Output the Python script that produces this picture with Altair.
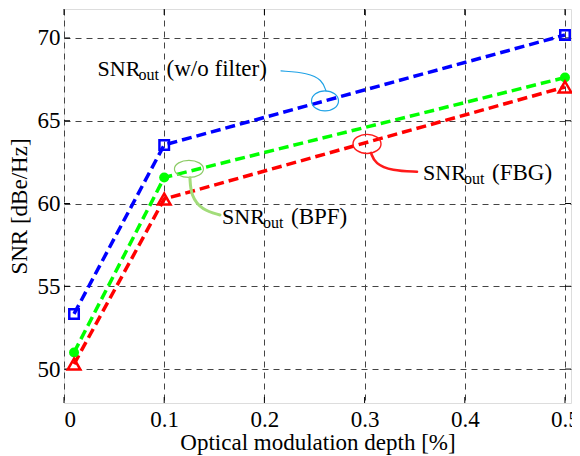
import altair as alt
import pandas as pd

# ---- data ----
depth = [0.01, 0.1, 0.5]
snr_wo_filter = [53.33, 63.54, 70.18]
snr_bpf = [51.0, 61.57, 67.61]
snr_fbg = [50.3, 60.27, 67.04]

series_names = ["w/o filter", "BPF", "FBG"]
series_colors = ["#0000ff", "#00ff00", "#ff0000"]

x_ticks = [0, 0.1, 0.2, 0.3, 0.4, 0.5]
y_ticks = [50, 55, 60, 65, 70]

# annotation anchors (data units)
ann_text_x = [0.0335, 0.1577, 0.3583]
ann_text_y = [67.71, 58.77, 61.40]
ann_rest = ["(w/o filter)", "(BPF)", "(FBG)"]
ell_x = [0.2605, 0.1247, 0.3024]
ell_y = [66.20, 62.09, 63.60]
ell_w = [27, 29, 28]
ell_ratio = [0.74, 0.59, 0.68]
ell_color = ["#1fa2e6", "#8ccb66", "#ff1a1a"]
ell_stroke = [1.2, 1.2, 1.4]
lead_x = [[0.2166, 0.2435, 0.2575, 0.2615],
          [0.1257, 0.1267, 0.1377, 0.1557],
          [0.3064, 0.3104, 0.3273, 0.3523]]
lead_y = [[68.01, 67.89, 67.47, 66.80],
          [61.55, 60.46, 59.61, 59.31],
          [63.06, 62.40, 61.98, 61.92]]
lead_color = ["#1fa2e6", "#a2dc7a", "#ff1a1a"]
lead_width = [1.2, 3.0, 2.6]

W, H = 507, 394
FONT = "Liberation Serif, Times New Roman, serif"
FS = 23

xs = alt.Scale(domain=[0, 0.506], nice=False, zero=False)
ys = alt.Scale(domain=[47.95, 71.75], nice=False, zero=False)

rows = []
for name, vals in zip(series_names, [snr_wo_filter, snr_bpf, snr_fbg]):
    for d, v in zip(depth, vals):
        rows.append({"series": name, "x": d, "y": v})
df = pd.DataFrame(rows)

x_axis = alt.Axis(
    values=x_ticks, title="Optical modulation depth [%]",
    labelExpr="datum.value == 0 ? '0' : format(datum.value, '.1f')",
    grid=True, gridDash=[6, 5], gridColor="#444444", gridWidth=1,
    domain=False, ticks=False, labelPadding=5, labelFontSize=FS,
    labelFont=FONT, labelColor="black", titleFont=FONT, titleFontSize=FS,
    titleFontWeight="normal", titleColor="black", titleX=W / 2, titleY=46,
    titleBaseline="alphabetic", titleAlign="center",
)
y_axis = alt.Axis(
    values=y_ticks, title="SNR [dBe/Hz]", grid=True, gridDash=[6, 5],
    gridColor="#444444", gridWidth=1, domain=False, ticks=False,
    labelPadding=4, labelFontSize=FS, labelFont=FONT, labelColor="black",
    titleFont=FONT, titleFontSize=FS, titleFontWeight="normal",
    titleColor="black", titleX=-45, titleY=H / 2, titleAngle=-90,
    titleBaseline="middle", titleAlign="center",
)

base = alt.Chart(df)
lines = base.mark_line(strokeDash=[10, 5], strokeWidth=3.5).encode(
    x=alt.X("x:Q", scale=xs, axis=x_axis),
    y=alt.Y("y:Q", scale=ys, axis=y_axis),
    color=alt.Color("series:N", scale=alt.Scale(domain=series_names, range=series_colors), legend=None),
    detail="series:N",
)

def pts(name, **kw):
    return base.transform_filter(alt.datum.series == name).mark_point(opacity=1, **kw).encode(
        x=alt.X("x:Q", scale=xs), y=alt.Y("y:Q", scale=ys))

p_blue = pts("w/o filter", shape="square", size=90, filled=False, strokeWidth=2.5, color="#0000ff")
p_green = pts("BPF", shape="circle", size=100, filled=True, color="#00ff00")
p_red = pts("FBG", shape="triangle-up", size=160, filled=False, strokeWidth=2.5, color="#ff0000")

# inward ticks
xt = pd.DataFrame({"x": x_ticks})
yt = pd.DataFrame({"y": y_ticks})
tick_bottom = alt.Chart(xt).mark_rule(color="black", strokeWidth=1).encode(
    x=alt.X("x:Q", scale=xs), y=alt.value(H), y2=alt.value(H - 6))
tick_top = alt.Chart(xt).mark_rule(color="black", strokeWidth=1).encode(
    x=alt.X("x:Q", scale=xs), y=alt.value(0), y2=alt.value(6))
tick_left = alt.Chart(yt).mark_rule(color="black", strokeWidth=1).encode(
    y=alt.Y("y:Q", scale=ys), x=alt.value(0), x2=alt.value(6))
tick_right = alt.Chart(yt).mark_rule(color="black", strokeWidth=1).encode(
    y=alt.Y("y:Q", scale=ys), x=alt.value(W), x2=alt.value(W - 6))

# annotations
ann_layers = []
for i in range(3):
    r = ell_ratio[i]
    path = f"M-1,0A1,{r},0,1,1,1,0A1,{r},0,1,1,-1,0Z"
    edf = pd.DataFrame({"x": [ell_x[i]], "y": [ell_y[i]]})
    ann_layers.append(alt.Chart(edf).mark_point(
        shape=path, size=ell_w[i] ** 2, filled=False, color=ell_color[i],
        strokeWidth=ell_stroke[i], opacity=1).encode(
        x=alt.X("x:Q", scale=xs), y=alt.Y("y:Q", scale=ys)))
    ldf = pd.DataFrame({"x": lead_x[i], "y": lead_y[i], "o": list(range(4))})
    ann_layers.append(alt.Chart(ldf).mark_line(
        interpolate="basis", color=lead_color[i], strokeWidth=lead_width[i],
        strokeCap="round").encode(
        x=alt.X("x:Q", scale=xs), y=alt.Y("y:Q", scale=ys), order="o:Q"))

tdf = pd.DataFrame({"x": ann_text_x, "y": ann_text_y, "rest": ann_rest,
                    "main": ["SNR"] * 3, "sub": ["out"] * 3})
tb = alt.Chart(tdf)
t_main = tb.mark_text(align="left", baseline="alphabetic", font=FONT, fontSize=22, color="black").encode(
    x=alt.X("x:Q", scale=xs), y=alt.Y("y:Q", scale=ys), text="main:N")
t_sub = tb.mark_text(align="left", baseline="alphabetic", font=FONT, fontSize=16, color="black", dx=41, dy=4).encode(
    x=alt.X("x:Q", scale=xs), y=alt.Y("y:Q", scale=ys), text="sub:N")
t_rest = tb.mark_text(align="left", baseline="alphabetic", font=FONT, fontSize=23, color="black", dx=69).encode(
    x=alt.X("x:Q", scale=xs), y=alt.Y("y:Q", scale=ys), text="rest:N")

chart = alt.layer(
    tick_bottom, tick_top, tick_left, tick_right,
    lines, p_blue, p_green, p_red,
    *ann_layers, t_main, t_sub, t_rest,
).properties(
    width=W, height=H,
    autosize=alt.AutoSizeParams(type="none"),
    padding={"left": 56, "top": 1, "right": 1, "bottom": 52},
).configure_view(stroke="black", strokeWidth=1.5).configure(background="white")

chart.save("out.html", embed_options={"renderer": "svg", "actions": False})
